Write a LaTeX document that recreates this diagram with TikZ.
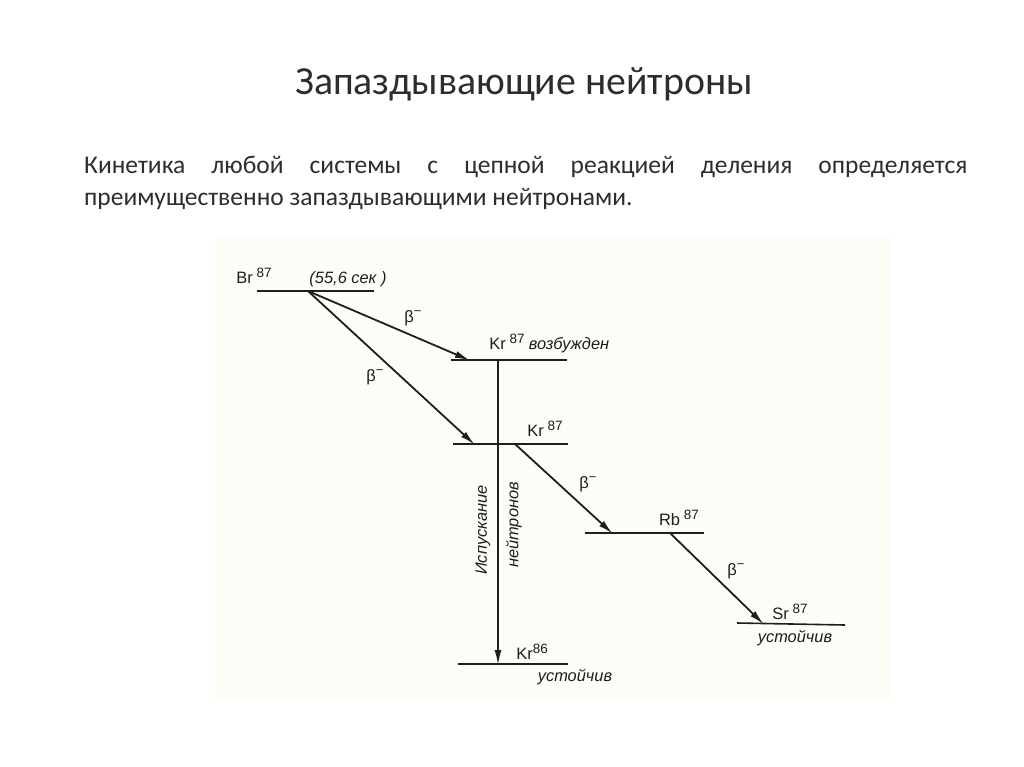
\documentclass[tikz,border=0pt]{standalone}
\usepackage{fontspec}
\setmainfont{Carlito}
\newfontfamily\diag{Liberation Sans}
\usetikzlibrary{arrows.meta}
\definecolor{scan}{RGB}{253,252,247}
\definecolor{ink}{RGB}{30,30,30}
\definecolor{txt}{RGB}{45,45,45}
\newcommand{\supn}[1]{\raisebox{0.38em}{\fontsize{13.5}{14}\selectfont #1}}
\newcommand{\betam}{β\raisebox{0.4em}{\fontsize{13}{14}\selectfont −}}
\tikzset{
 level/.style={draw=ink,line width=1.6pt},
 decay/.style={draw=ink,line width=1.8pt,-{Latex[length=15pt,width=7pt]},shorten >=-1pt},
 lab/.style={inner sep=0pt,text=ink,font=\diag\fontsize{16.5}{18}\selectfont},
 ital/.style={inner sep=0pt,text=ink,font=\diag\itshape\fontsize{16.4}{18}\selectfont},
 beta/.style={inner sep=0pt,text=ink,font=\diag\fontsize{16.5}{18}\selectfont},
 body/.style={inner sep=0pt,anchor=base west,text=txt,font=\fontsize{25.5}{30}\selectfont},
}
\begin{document}
\begin{tikzpicture}[x=1pt,y=-1pt]
\useasboundingbox (0,0) rectangle (1024,767);
\fill[white] (0,0) rectangle (1024,767);
\fill[scan] (215,238) rectangle (890,702);
\node[inner sep=0pt,text=txt,font=\fontsize{39.8}{44}\selectfont] (title) at (524,84.5) {Запаздывающие нейтроны};
\node[body] (l1) at (84,173.5) {\hbox to 883pt{Кинетика\hfill любой\hfill системы\hfill с\hfill цепной\hfill реакцией\hfill деления\hfill определяется}};
\node[body] (l2) at (84,205.5) {преимущественно запаздывающими нейтронами.};
% levels
\coordinate (brL) at (257,291); \coordinate (brR) at (374,291); \coordinate (brO) at (308,291);
\coordinate (keL) at (451,360); \coordinate (keR) at (567,360); \coordinate (keI) at (469,360); \coordinate (keO) at (498,360);
\coordinate (krL) at (453,444); \coordinate (krR) at (568,444); \coordinate (krI) at (474,444); \coordinate (krO) at (515,444);
\coordinate (rbL) at (585,533); \coordinate (rbR) at (704,533); \coordinate (rbI) at (612,533); \coordinate (rbO) at (670,533);
\coordinate (srL) at (737,623); \coordinate (srR) at (845,625); \coordinate (srI) at (763,623.5);
\coordinate (k6L) at (458,664); \coordinate (k6R) at (568,664); \coordinate (k6I) at (498,664);
\draw[level] (brL) -- (brR);
\draw[level] (keL) -- (keR);
\draw[level] (krL) -- (krR);
\draw[level] (rbL) -- (rbR);
\draw[level] (srL) -- (srR);
\draw[level] (k6L) -- (k6R);
% arrows
\draw[decay] (brO) -- (keI);
\draw[decay] (brO) -- (krI);
\draw[decay] (krO) -- (rbI);
\draw[decay] (rbO) -- (srI);
\draw[decay] (keO) -- (k6I);
% labels
\node[lab] (nbr) at (254,276) {Br\supn{ 87}};
\node[ital] (nt) at (348,279) {(55,6 сек )};
\node[lab] (nke) at (507,342) {Kr\supn{ 87}};
\node[ital] (nv) at (569,345) {возбужден};
\node[lab] (nkr) at (545,429) {Kr\supn{ 87}};
\node[lab] (nrb) at (679,518) {Rb\supn{ 87}};
\node[lab] (nsr) at (790,612) {Sr\supn{ 87}};
\node[lab] (nk6) at (532,652) {Kr\supn{86}};
\node[ital] (us1) at (795,638) {устойчив};
\node[ital] (us2) at (575,677) {устойчив};
\node[beta] (b1) at (413,318) {\betam};
\node[beta] (b2) at (375,377) {\betam};
\node[beta] (b3) at (588,484) {\betam};
\node[beta] (b4) at (736,571) {\betam};
\node[ital,rotate=90] (em1) at (483,530) {Испускание};
\node[ital,rotate=90] (em2) at (514,525) {нейтронов};
\end{tikzpicture}
\end{document}
